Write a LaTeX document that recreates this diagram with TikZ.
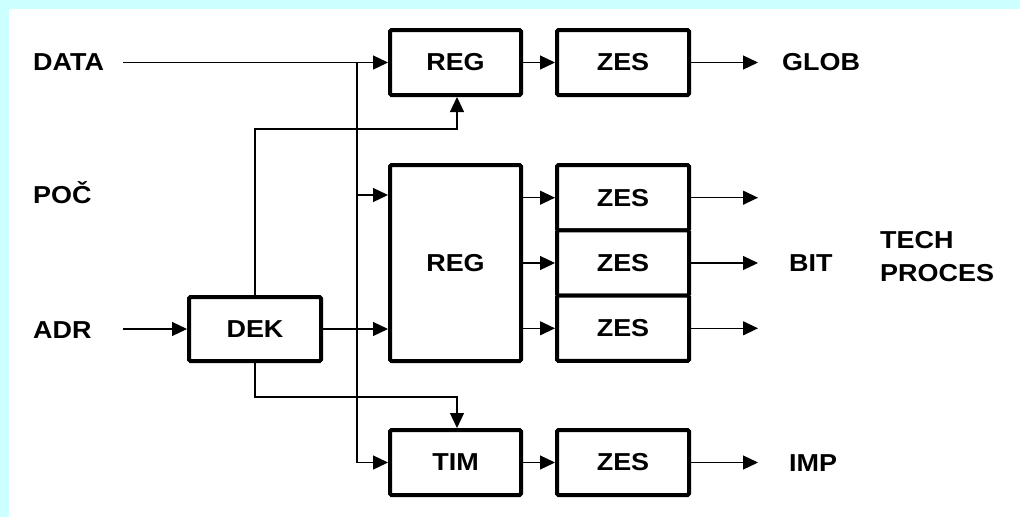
\documentclass[tikz,border=0pt]{standalone}
\usepackage{fontspec}
\setmainfont{Liberation Sans}[FakeStretch=1.1]
\usetikzlibrary{arrows.meta}
\definecolor{bgcyan}{RGB}{204,255,255}
\begin{document}
\begin{tikzpicture}[x=1pt,y=-1pt,
  font=\fontsize{24.5}{29}\selectfont\bfseries,
  blk/.style={draw=black,line width=4pt,rounded corners=1.5pt,fill=white,inner sep=0pt,align=center},
  lbl/.style={anchor=base west,inner sep=0pt},
  conn/.style={line width=1.2pt,-{Triangle[length=15pt,width=14pt]}},
  wire/.style={line width=1.2pt}]
\useasboundingbox (0,0) rectangle (1020,517);
\fill[bgcyan] (0,0) rectangle (1020,517);
\fill[white] (9,9) rectangle (1020,517);
% blocks
\node[blk,minimum width=131pt,minimum height=65pt] (reg1) at (455.5,62.5) {REG};
\node[blk,minimum width=132pt,minimum height=65pt] (zes1) at (623,62.5) {ZES};
\node[blk,minimum width=131pt,minimum height=196pt] (reg2) at (455.5,263) {REG};
\node[blk,minimum width=132pt,minimum height=65.3pt] (zesa) at (623,197.7) {ZES};
\node[blk,minimum width=132pt,minimum height=65.3pt] (zesb) at (623,263) {ZES};
\node[blk,minimum width=132pt,minimum height=65.3pt] (zesc) at (623,328.3) {ZES};
\node[blk,minimum width=132pt,minimum height=64pt] (dek) at (255,329) {DEK};
\node[blk,minimum width=131pt,minimum height=65pt] (tim) at (455.5,462.5) {TIM};
\node[blk,minimum width=132pt,minimum height=65pt] (zes2) at (623,462.5) {ZES};
% labels
\node[lbl] (data) at (33,70.5) {DATA};
\node[lbl] (poc) at (33,203.5) {POČ};
\node[lbl] (adr) at (33,338.5) {ADR};
\node[lbl] (glob) at (782,70.5) {GLOB};
\node[lbl] (bit) at (789,271.5) {BIT};
\node[lbl] (tech) at (880,248.5) {TECH};
\node[lbl] (proc) at (880,281.5) {PROCES};
\node[lbl] (imp) at (789,471.5) {IMP};
% coordinates
\coordinate (bustop) at (357,62.5);
\coordinate (busmid) at (357,195);
\coordinate (busbot) at (357,462.5);
\coordinate (fbk) at (255,129);
\coordinate (dkb) at (255,397);
\coordinate (oa) at (758,197.7);
\coordinate (ob) at (758,263);
\coordinate (oc) at (758,328.3);
\coordinate (og) at (758,62.5);
\coordinate (oi) at (758,462.5);
\coordinate (datastart) at (123,62.5);
\coordinate (adrstart) at (123,329);
% connectors
\draw[conn] (datastart) -- (reg1.west);
\draw[wire] (bustop) -- (busbot);
\draw[conn] (busbot) -- (tim.west);
\draw[conn] (busmid) -- (busmid -| reg2.west);
\draw[conn] (adrstart) -- (dek.west);
\draw[conn] (dek.east) -- (dek.east -| reg2.west);
\draw[conn] (dek.north) -- (fbk) -| ([xshift=1.5pt]reg1.south);
\draw[conn] (dek.south) -- (dkb) -| ([xshift=1.5pt]tim.north);
\draw[conn] (reg1.east) -- (zes1.west);
\draw[conn] (tim.east) -- (zes2.west);
\draw[conn] (zes1.east) -- (og);
\draw[conn] (zes2.east) -- (oi);
\draw[conn] (reg2.east |- zesa.west) -- (zesa.west);
\draw[conn] (reg2.east |- zesb.west) -- (zesb.west);
\draw[conn] (reg2.east |- zesc.west) -- (zesc.west);
\draw[conn] (zesa.east) -- (oa);
\draw[conn] (zesb.east) -- (ob);
\draw[conn] (zesc.east) -- (oc);
\end{tikzpicture}
\end{document}
